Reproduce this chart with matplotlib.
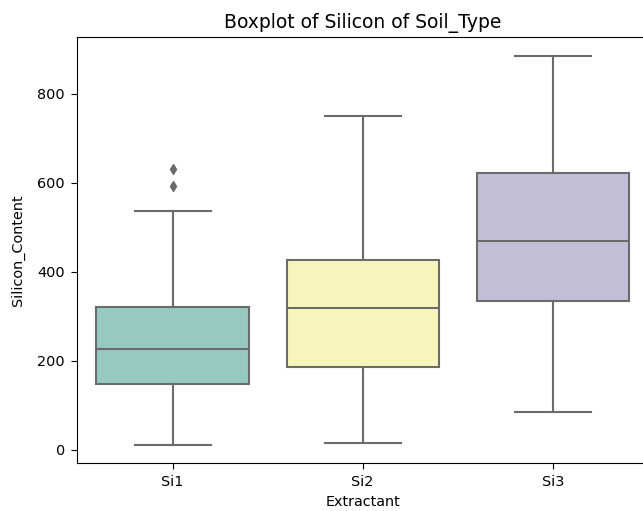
import matplotlib
matplotlib.use('Agg')
import matplotlib.pyplot as plt
import seaborn as sns

# box statistics
extractants = ['Si1', 'Si2', 'Si3']
whislo = [11, 16, 84]
q1 = [148, 186, 334]
med = [227, 319, 468]
q3 = [320, 427, 621]
whishi = [536, 751, 884]
fliers = [[593, 630], [], []]

colors = sns.color_palette('Set3', 3, desat=0.75)
gray = '0.42'

stats = []
for i, name in enumerate(extractants):
    stats.append(dict(label=name, whislo=whislo[i], q1=q1[i], med=med[i],
                      q3=q3[i], whishi=whishi[i], fliers=fliers[i]))

fig = plt.figure(figsize=(6.43, 5.11), dpi=100)
ax = fig.add_axes([0.1205, 0.094, 0.887, 0.834])

bp = ax.bxp(stats, positions=range(3), widths=0.8, patch_artist=True,
            boxprops=dict(edgecolor=gray, linewidth=1.5),
            medianprops=dict(color=gray, linewidth=1.5),
            whiskerprops=dict(color=gray, linewidth=1.5),
            capprops=dict(color=gray, linewidth=1.5),
            flierprops=dict(marker='d', markerfacecolor=gray, markeredgecolor=gray,
                            markersize=5.5))
for patch, c in zip(bp['boxes'], colors):
    patch.set_facecolor(c)

ax.set_xlim(-0.5, 2.5)
ax.set_ylim(-30, 928)
ax.set_xticks(range(3))
ax.set_xticklabels(extractants)
ax.set_yticks([0, 200, 400, 600, 800])
ax.tick_params(labelsize=10.4, length=4.5, pad=4.5)
ax.set_xlabel('Extractant', fontsize=10.4)
ax.set_ylabel('Silicon_Content', fontsize=10.4, labelpad=9)
ax.set_title('Boxplot of Silicon of Soil_Type', fontsize=13.5)

fig.savefig('out.png', dpi=100)
